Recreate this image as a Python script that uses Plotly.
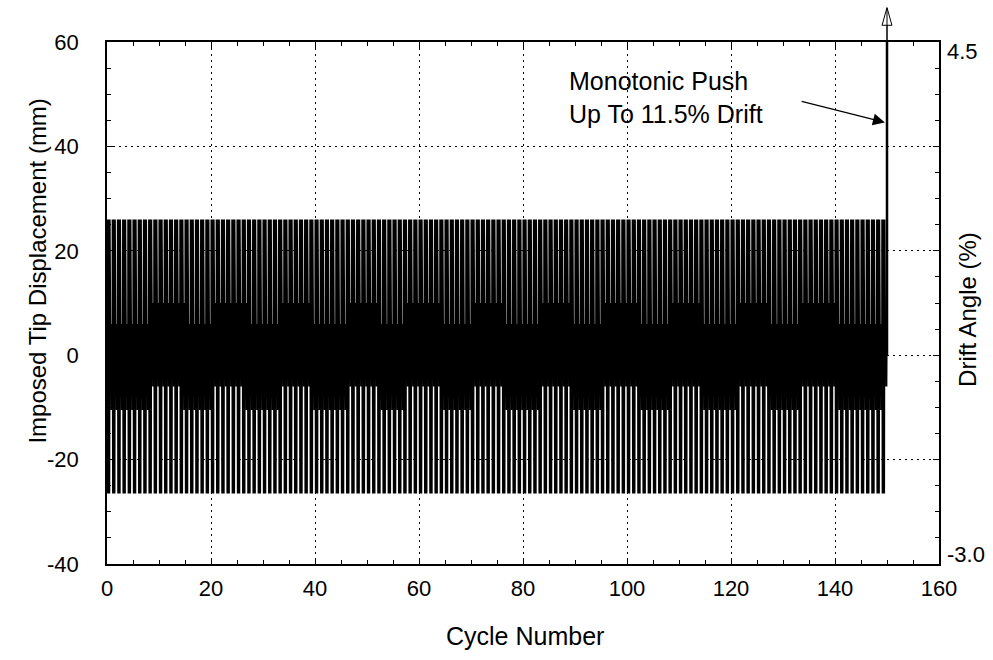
import plotly.graph_objects as go

# ---- Loading protocol -------------------------------------------------------
n_cycles = 150                 # number of reversed displacement cycles
peak_pos_mm = 26.0             # large positive excursion of every cycle
peak_neg_mm = -26.5            # large negative excursion of every cycle
small_pos_levels = [6.0, 10.0]     # small positive excursion (low / high)
small_neg_levels = [-6.0, -10.5]   # small negative excursion (low / high)

# cycle ranges [start, end) where the small excursions use the high level
upper_hi_blocks = [(8, 15), (20, 27), (33, 39), (46, 52), (57, 64), (70, 76),
                   (83, 89), (95, 102), (108, 114), (121, 127), (133, 140)]
lower_hi_blocks = [(0, 8), (14, 20), (26, 33), (39, 46), (52, 57), (64, 70),
                   (76, 83), (89, 95), (102, 108), (114, 121), (127, 133), (140, 149)]

push_cycle = 150               # monotonic push applied after the last cycle
push_drift_pct = 11.5          # drift reached by the push
drift_range_pct = [-3.0, 4.5]  # secondary axis (drift angle)
disp_range_mm = [-40, 60]      # primary axis (tip displacement)
cycle_range = [0, 160]
x_ticks = [0, 20, 40, 60, 80, 100, 120, 140, 160]
y_ticks = [-40, -20, 0, 20, 40, 60]

# displacement corresponding to a given drift (same scale on both axes)
mm_per_pct = (disp_range_mm[1] - disp_range_mm[0]) / (drift_range_pct[1] - drift_range_pct[0])
push_disp_mm = push_drift_pct * mm_per_pct


def in_blocks(i, blocks):
    return any(a <= i < b for a, b in blocks)


small_pos = [small_pos_levels[1] if in_blocks(i, upper_hi_blocks) else small_pos_levels[0]
             for i in range(n_cycles)]
small_neg = [small_neg_levels[1] if in_blocks(i, lower_hi_blocks) else small_neg_levels[0]
             for i in range(n_cycles)]

# ---- Build the displacement history ---------------------------------------
big_strokes = 9      # reversals at full amplitude inside each cycle
small_strokes = 8    # reversals at small amplitude inside each cycle
big_span = 0.6       # fraction of the cycle used by the large reversals
small_start, small_end = 0.64, 0.97

xs, ys = [0.0], [0.0]
for i in range(n_cycles):
    for k in range(big_strokes):
        xs.append(i + big_span * k / (big_strokes - 1))
        ys.append(peak_pos_mm if k % 2 == 0 else peak_neg_mm)
    for k in range(small_strokes):
        xs.append(i + small_start + (small_end - small_start) * k / (small_strokes - 1))
        ys.append(small_pos[i] if k % 2 == 0 else small_neg[i])
xs.append(float(n_cycles))
ys.append(0.0)

fig = go.Figure()
fig.add_trace(go.Scatter(x=xs, y=ys, mode="lines",
                         line=dict(color="black", width=1.1),
                         hoverinfo="skip", showlegend=False))
# monotonic push (runs off the top of the displacement axis)
fig.add_trace(go.Scatter(x=[push_cycle, push_cycle], y=[0.0, push_disp_mm], mode="lines",
                         line=dict(color="black", width=2.5),
                         hoverinfo="skip", showlegend=False))
# drift-angle axis carrier
fig.add_trace(go.Scatter(x=[push_cycle, push_cycle], y=drift_range_pct, yaxis="y2",
                         mode="lines", line=dict(color="rgba(0,0,0,0)", width=0),
                         hoverinfo="skip", showlegend=False))

font_family = "Liberation Sans, Arial, sans-serif"
tick_font = dict(family=font_family, size=22, color="black")
title_font = dict(family=font_family, size=25, color="black")
side_title_font = dict(family=font_family, size=24, color="black")

axis_common = dict(
    showline=True, linecolor="black", linewidth=1.5, mirror="ticks",
    ticks="inside", ticklen=6, tickwidth=1, tickcolor="black",
    showgrid=True, gridcolor="black", gridwidth=1, griddash="2px,4px",
    zeroline=False, tickfont=tick_font,
    minor=dict(dtick=5, ticks="inside", ticklen=4, tickcolor="black", showgrid=False),
)

fig.update_layout(
    width=993, height=660,
    margin=dict(l=107, r=54, t=42, b=96),
    paper_bgcolor="white", plot_bgcolor="white",
    showlegend=False,
    xaxis=dict(range=cycle_range, tickvals=x_ticks, ticktext=[str(v) for v in x_ticks],
               ticklabelstandoff=4, **axis_common),
    yaxis=dict(range=disp_range_mm, tickvals=y_ticks, ticktext=[str(v) for v in y_ticks],
               ticklabelstandoff=22, **axis_common),
    yaxis2=dict(range=drift_range_pct, overlaying="y", side="right",
                showticklabels=False, showgrid=False, ticks="", showline=False,
                zeroline=False),
)

# arrow extension and open arrowhead marking the push beyond the axis limit
head_w = 0.95
fig.add_shape(type="line", xref="x", yref="paper", x0=push_cycle, x1=push_cycle,
              y0=1.0, y1=1.064, line=dict(color="black", width=1))
fig.add_shape(type="path", xref="x", yref="paper",
              path=f"M {push_cycle - head_w} 1.032 L {push_cycle} 1.066 L {push_cycle + head_w} 1.032 Z",
              line=dict(color="black", width=1), fillcolor="white")
fig.add_shape(type="line", xref="x", yref="paper", x0=push_cycle, x1=push_cycle,
              y0=1.0, y1=1.064, line=dict(color="black", width=1))

annotations = [
    dict(text="Monotonic Push<br>Up To %s%% Drift" % push_drift_pct,
         x=88.5, y=49.3, xref="x", yref="y", xanchor="left", yanchor="middle",
         align="left", showarrow=False, font=title_font),
    dict(text="", x=149.6, y=44.6, xref="x", yref="y", ax=133.3, ay=48.7,
         axref="x", ayref="y", showarrow=True, arrowhead=2, arrowsize=2,
         arrowwidth=1.2, arrowcolor="black"),
    dict(text="Imposed Tip Displacement (mm)", x=-0.083, y=0.562, xref="paper",
         yref="paper", xanchor="center", yanchor="middle", textangle=-90,
         showarrow=False, font=side_title_font),
    dict(text="Cycle Number", x=0.502, y=-0.138, xref="paper", yref="paper",
         xanchor="center", yanchor="middle", showarrow=False, font=title_font),
    dict(text="Drift Angle (%)", x=1.035, y=0.487, xref="paper", yref="paper",
         xanchor="center", yanchor="middle", textangle=-90, showarrow=False,
         font=side_title_font),
    dict(text="%.1f" % drift_range_pct[1], x=1.0, y=drift_range_pct[1], xref="paper",
         yref="y2", xanchor="left", yanchor="top", xshift=6, yshift=5,
         showarrow=False, font=tick_font),
    dict(text="%.1f" % drift_range_pct[0], x=1.0, y=drift_range_pct[0], xref="paper",
         yref="y2", xanchor="left", yanchor="bottom", xshift=6, yshift=-5,
         showarrow=False, font=tick_font),
]
fig.update_layout(annotations=annotations)

fig.write_html("out.html")
